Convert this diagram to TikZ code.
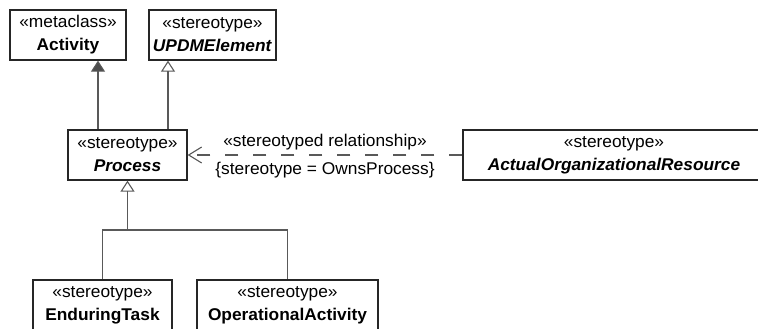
\documentclass[tikz,border=0pt]{standalone}
\usepackage{fontspec}
\setmainfont{Liberation Sans}[FakeStretch=1.02]
\usetikzlibrary{arrows.meta}

\begin{document}
\begin{tikzpicture}[x=1pt,y=-1pt,
    every node/.style={font=\fontsize{17}{23}\selectfont},
    cls/.style={draw=black!85, line width=1.3pt, minimum height=50pt, inner sep=0pt, align=center},
    link/.style={draw=black!65, line width=1.1pt},
    extends/.style={link, -{Triangle[length=11pt,width=14pt,fill=black!70]}},
    general/.style={link, -{Triangle[open,length=11pt,width=14pt]}},
    depends/.style={link, dash pattern=on 13pt off 15pt, -{Straight Barb[length=13pt,width=16pt]}}]
    \useasboundingbox (0,0) rectangle (758,329);
    % classes
    \node[cls, minimum width=116pt] (act) at (68,35) {«metaclass»\\\textbf{Activity}};
    \node[cls, minimum width=127pt] (upd) at (212.5,35) {«stereotype»\\\textbf{\textit{UPDMElement}}};
    \node[cls, minimum width=119pt] (proc) at (127.5,155) {«stereotype»\\\textbf{\textit{Process}}};
    \node[cls, minimum width=302pt] (aor) at (614,155) {«stereotype»\\\textbf{\textit{ActualOrganizationalResource}}};
    \node[cls, minimum width=139pt] (eta) at (102.5,305) {«stereotype»\\\textbf{EnduringTask}};
    \node[cls, minimum width=181pt] (opa) at (287.5,305) {«stereotype»\\\textbf{OperationalActivity}};
    % generalizations
    \coordinate (a1) at ([xshift=30pt]act.south);
    \coordinate (u1) at ([xshift=-44.5pt]upd.south);
    \coordinate (fork) at (127.5,230);
    \draw[extends] (proc.north -| a1) -- (a1);
    \draw[general] (proc.north -| u1) -- (u1);
    \draw[link] (eta.north) |- (fork) -| (opa.north);
    \draw[general] (fork) -- (proc.south);
    % stereotyped relationship
    \draw[depends] (aor.west) -- (proc.east)
      node[midway, above=1pt] (rel) {«stereotyped relationship»}
      node[midway, below=3pt] (tag) {\{stereotype = OwnsProcess\}};
\end{tikzpicture}
\end{document}
